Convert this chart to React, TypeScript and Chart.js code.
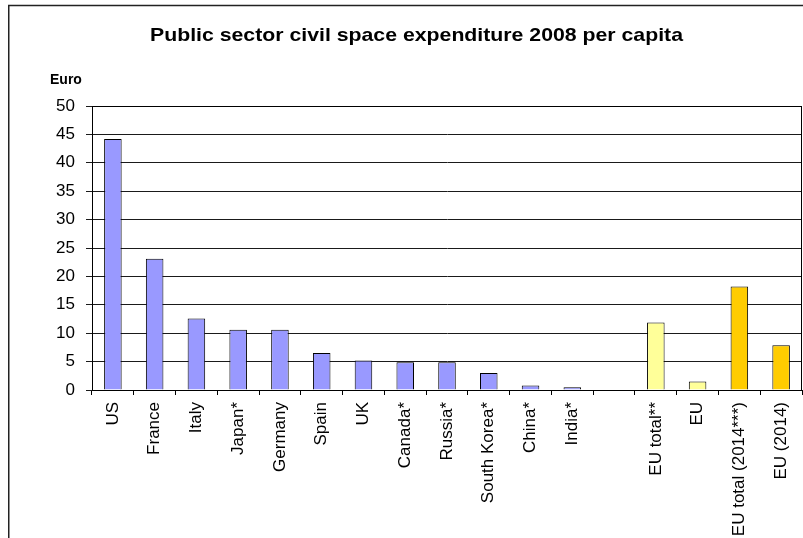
import React, { useEffect, useRef } from 'react';
import { Chart, registerables } from 'chart.js';

Chart.register(...registerables);

const TITLE = 'Public sector civil space expenditure 2008 per capita';
const Y_LABEL = 'Euro';

const categories = [
  'US', 'France', 'Italy', 'Japan*', 'Germany', 'Spain', 'UK', 'Canada*', 'Russia*',
  'South Korea*', 'China*', 'India*', '', 'EU total**', 'EU', 'EU total (2014***)', 'EU (2014)',
];
const values: (number | null)[] = [
  44.2, 23.1, 12.6, 10.6, 10.6, 6.5, 5.2, 4.9, 4.9, 3.0, 0.8, 0.5, null, 11.9, 1.5, 18.2, 7.9,
];
const groups = [
  'country', 'country', 'country', 'country', 'country', 'country', 'country', 'country', 'country',
  'country', 'country', 'country', 'gap', 'eu2008', 'eu2008', 'eu2014', 'eu2014',
];
const groupColors: Record<string, string> = {
  country: '#9999FF',
  eu2008: '#FFFF99',
  eu2014: '#FFCC00',
  gap: 'rgba(0,0,0,0)',
};
const yMin = 0;
const yMax = 50;
const yStep = 5;

const FONT = '"Liberation Sans", Arial, Helvetica, sans-serif';

const decor = {
  id: 'decor',
  beforeDraw(chart: any) {
    const ctx = chart.ctx;
    ctx.save();
    ctx.fillStyle = '#ffffff';
    ctx.fillRect(0, 0, chart.width, chart.height);
    ctx.restore();
  },
  afterDraw(chart: any) {
    const ctx = chart.ctx;
    const a = chart.chartArea;
    ctx.save();
    // outer frame (left and top visible)
    ctx.strokeStyle = '#222';
    ctx.lineWidth = 1.5;
    ctx.beginPath();
    ctx.moveTo(8.75, chart.height);
    ctx.lineTo(8.75, 5.5);
    ctx.lineTo(chart.width, 5.5);
    ctx.stroke();
    // plot area border
    ctx.strokeStyle = '#000';
    ctx.lineWidth = 1;
    ctx.strokeRect(Math.round(a.left) + 0.5, Math.round(a.top) + 0.5, Math.round(a.right - a.left) - 1, Math.round(a.bottom - a.top));
    // title
    ctx.fillStyle = '#000';
    ctx.font = `bold 19px ${FONT}`;
    const w = ctx.measureText(TITLE).width;
    const sx = 533 / w;
    ctx.save();
    ctx.translate(416.5, 41);
    ctx.scale(sx, 1);
    ctx.textAlign = 'center';
    ctx.textBaseline = 'alphabetic';
    ctx.fillText(TITLE, 0, 0);
    ctx.restore();
    // y axis unit label
    ctx.font = `bold 14px ${FONT}`;
    ctx.textAlign = 'left';
    ctx.textBaseline = 'alphabetic';
    ctx.fillText(Y_LABEL, 50, 84);
    ctx.restore();
  },
};

export default function App() {
  const ref = useRef<HTMLCanvasElement>(null);
  useEffect(() => {
    if (!ref.current) return;
    const chart = new Chart(ref.current, {
      type: 'bar',
      data: {
        labels: categories,
        datasets: [
          {
            data: values as any,
            backgroundColor: groups.map((g) => groupColors[g]),
            borderColor: '#000',
            borderWidth: 1,
            barPercentage: 0.42,
            categoryPercentage: 1,
          },
        ],
      },
      options: {
        animation: false,
        responsive: false,
        devicePixelRatio: 1,
        layout: { padding: { top: 106, right: 1, left: 0, bottom: 0 } },
        plugins: {
          legend: { display: false },
          title: { display: false },
          tooltip: { enabled: false },
        },
        scales: {
          x: {
            grid: { display: true, drawOnChartArea: false, drawTicks: true, tickLength: 5, color: '#000', offset: true },
            border: { display: true, color: '#000', width: 1 },
            ticks: {
              autoSkip: false,
              minRotation: 90,
              maxRotation: 90,
              padding: 7,
              color: '#000',
              font: { family: FONT, size: 17 },
            },
            afterFit(scale: any) {
              scale.height = 148;
              scale.paddingLeft = 0;
              scale.paddingRight = 0;
            },
          },
          y: {
            min: yMin,
            max: yMax,
            ticks: {
              stepSize: yStep,
              padding: 11,
              color: '#000',
              font: { family: FONT, size: 17 },
            },
            grid: { color: '#1a1a1a', tickLength: 6, drawTicks: true },
            border: { display: true, color: '#000', width: 1 },
            afterFit(scale: any) {
              scale.width = 92;
            },
          },
        },
      },
      plugins: [decor],
    });
    return () => chart.destroy();
  }, []);
  return (
    <div style={{ position: 'absolute', left: 0, top: 0, width: 803, height: 538 }}>
      <canvas ref={ref} width={803} height={538} style={{ display: 'block' }} />
    </div>
  );
}
